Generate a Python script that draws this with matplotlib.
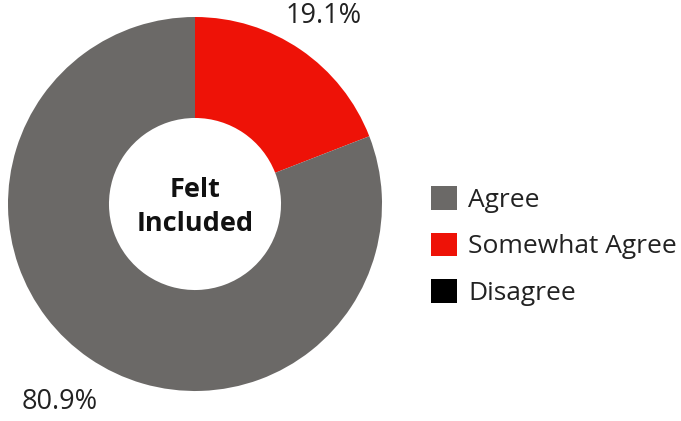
import matplotlib

matplotlib.use("Agg")
import numpy as np
import matplotlib.pyplot as plt
from matplotlib.patches import Patch

plt.rcParams["font.family"] = ["Open Sans", "DejaVu Sans"]

CATEGORIES = ["Agree", "Somewhat Agree", "Disagree"]
SHARES = [80.9, 19.1, 0.0]
COLORS = ["#6b6967", "#ee1207", "#000000"]
CENTER_TITLE = "Felt\nIncluded"

# wedges are drawn clockwise from 12 o'clock, red first
PIE_ORDER = [1, 0, 2]
# how far out each percentage sits, in pie radii
LABEL_DIST = {0: 1.28, 1: 1.22, 2: 1.2}


def pct_label(value):
    return f"{value:.1f}%" if value > 0 else ""


def main():
    fig = plt.figure(figsize=(6.81, 4.21), dpi=100)
    W, H = 681, 421
    cx, cy, r = 195, 421 - 204, 187
    ax = fig.add_axes([(cx - r) / W, (cy - r) / H, 2 * r / W, 2 * r / H])

    vals = [SHARES[i] for i in PIE_ORDER]
    cols = [COLORS[i] for i in PIE_ORDER]
    wedges, texts = ax.pie(
        vals,
        colors=cols,
        startangle=90,
        counterclock=False,
        radius=1.0,
        wedgeprops=dict(width=0.54, linewidth=0),
        labels=[pct_label(v) for v in vals],
        labeldistance=1.22,
        textprops=dict(fontsize=19.5, color="#222222"),
    )
    for idx, w, t in zip(PIE_ORDER, wedges, texts):
        mid = np.deg2rad((w.theta1 + w.theta2) / 2)
        d = LABEL_DIST[idx]
        t.set_position((d * np.cos(mid), d * np.sin(mid)))
        t.set_horizontalalignment("center")
        t.set_verticalalignment("center")
    ax.set_xlim(-1, 1)
    ax.set_ylim(-1, 1)
    ax.set_aspect("equal")
    ax.axis("off")

    ax.text(0, -0.015, CENTER_TITLE, ha="center", va="center", fontsize=19.5,
            fontweight="bold", color="#111111", linespacing=1.4)

    handles = [Patch(facecolor=c, edgecolor="none") for c in COLORS]
    fig.legend(
        handles,
        CATEGORIES,
        loc="center left",
        bbox_to_anchor=(431 / W, 1 - 246 / H),
        frameon=False,
        fontsize=19,
        handlelength=1.0,
        handleheight=1.0,
        handletextpad=0.42,
        labelspacing=0.75,
        borderaxespad=0,
        borderpad=0,
        labelcolor="#222222",
    )

    fig.savefig("out.png", dpi=100)


if __name__ == "__main__":
    main()
